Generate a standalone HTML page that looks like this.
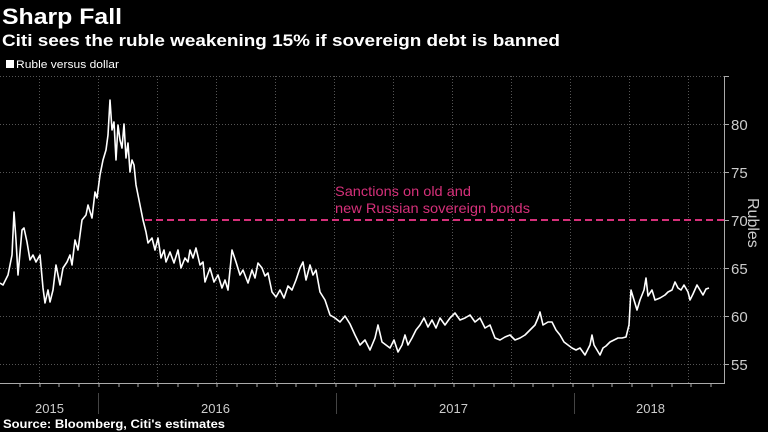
<!DOCTYPE html>
<html><head><meta charset="utf-8"><style>
html,body{margin:0;padding:0;background:#000;}
svg{display:block;font-family:"Liberation Sans",sans-serif;}
</style></head><body>
<svg width="768" height="432" viewBox="0 0 768 432" xmlns="http://www.w3.org/2000/svg">
<rect width="768" height="432" fill="#000"/>
<text x="2" y="24" fill="#fff" font-size="22" font-weight="bold" textLength="120" lengthAdjust="spacingAndGlyphs">Sharp Fall</text>
<text x="2" y="46" fill="#fff" font-size="17" font-weight="bold" textLength="558" lengthAdjust="spacingAndGlyphs">Citi sees the ruble weakening 15% if sovereign debt is banned</text>
<rect x="6" y="60" width="8" height="8" fill="#fff"/>
<text x="16" y="68" fill="#fff" font-size="11" textLength="103" lengthAdjust="spacingAndGlyphs">Ruble versus dollar</text>
<g stroke="#555" stroke-width="1" stroke-dasharray="1,2">
<line x1="0" y1="76.5" x2="724" y2="76.5"/>
<line x1="0" y1="124.5" x2="724" y2="124.5"/>
<line x1="0" y1="172.5" x2="724" y2="172.5"/>
<line x1="0" y1="268.5" x2="724" y2="268.5"/>
<line x1="0" y1="316.5" x2="724" y2="316.5"/>
<line x1="0" y1="364.5" x2="724" y2="364.5"/>
<line x1="39.5" y1="76" x2="39.5" y2="383"/>
<line x1="98.5" y1="76" x2="98.5" y2="383"/>
<line x1="157.5" y1="76" x2="157.5" y2="383"/>
<line x1="216.5" y1="76" x2="216.5" y2="383"/>
<line x1="275.5" y1="76" x2="275.5" y2="383"/>
<line x1="334.5" y1="76" x2="334.5" y2="383"/>
<line x1="393.5" y1="76" x2="393.5" y2="383"/>
<line x1="452.5" y1="76" x2="452.5" y2="383"/>
<line x1="511.5" y1="76" x2="511.5" y2="383"/>
<line x1="570.5" y1="76" x2="570.5" y2="383"/>
<line x1="629.5" y1="76" x2="629.5" y2="383"/>
<line x1="688.5" y1="76" x2="688.5" y2="383"/>
</g>
<g stroke="#aaa" stroke-width="1">
<line x1="0" y1="383.5" x2="725" y2="383.5"/>
<line x1="724.5" y1="76" x2="724.5" y2="384"/>
<line x1="724" y1="76.5" x2="729" y2="76.5"/>
<line x1="724" y1="124.5" x2="729" y2="124.5"/>
<line x1="724" y1="172.5" x2="729" y2="172.5"/>
<line x1="724" y1="220.5" x2="729" y2="220.5"/>
<line x1="724" y1="268.5" x2="729" y2="268.5"/>
<line x1="724" y1="316.5" x2="729" y2="316.5"/>
<line x1="724" y1="364.5" x2="729" y2="364.5"/>
<line x1="98.5" y1="393" x2="98.5" y2="414" stroke="#444"/>
<line x1="336.5" y1="393" x2="336.5" y2="414" stroke="#444"/>
<line x1="574.5" y1="393" x2="574.5" y2="414" stroke="#444"/>
</g>
<g stroke="#aaa" stroke-width="1" id="ticks">
<line x1="20" y1="384" x2="20" y2="387"/><line x1="40" y1="384" x2="40" y2="387"/><line x1="59" y1="384" x2="59" y2="387"/><line x1="79" y1="384" x2="79" y2="387"/><line x1="99" y1="384" x2="99" y2="387"/><line x1="119" y1="384" x2="119" y2="387"/><line x1="138" y1="384" x2="138" y2="387"/><line x1="158" y1="384" x2="158" y2="387"/><line x1="178" y1="384" x2="178" y2="387"/><line x1="198" y1="384" x2="198" y2="387"/><line x1="217" y1="384" x2="217" y2="387"/><line x1="237" y1="384" x2="237" y2="387"/><line x1="257" y1="384" x2="257" y2="387"/><line x1="277" y1="384" x2="277" y2="387"/><line x1="296" y1="384" x2="296" y2="387"/><line x1="316" y1="384" x2="316" y2="387"/><line x1="336" y1="384" x2="336" y2="387"/><line x1="356" y1="384" x2="356" y2="387"/><line x1="375" y1="384" x2="375" y2="387"/><line x1="395" y1="384" x2="395" y2="387"/><line x1="415" y1="384" x2="415" y2="387"/><line x1="435" y1="384" x2="435" y2="387"/><line x1="454" y1="384" x2="454" y2="387"/><line x1="474" y1="384" x2="474" y2="387"/><line x1="494" y1="384" x2="494" y2="387"/><line x1="514" y1="384" x2="514" y2="387"/><line x1="533" y1="384" x2="533" y2="387"/><line x1="553" y1="384" x2="553" y2="387"/><line x1="573" y1="384" x2="573" y2="387"/><line x1="593" y1="384" x2="593" y2="387"/><line x1="612" y1="384" x2="612" y2="387"/><line x1="632" y1="384" x2="632" y2="387"/><line x1="652" y1="384" x2="652" y2="387"/><line x1="672" y1="384" x2="672" y2="387"/><line x1="691" y1="384" x2="691" y2="387"/><line x1="711" y1="384" x2="711" y2="387"/>
</g>
<g fill="#ccc" font-size="15">
<text x="731" y="130">80</text>
<text x="731" y="178">75</text>
<text x="731" y="226">70</text>
<text x="731" y="274">65</text>
<text x="731" y="322">60</text>
<text x="731" y="370">55</text>
<text transform="translate(748,198) rotate(90)" font-size="16">Rubles</text>
<text x="35" y="413" font-size="13">2015</text>
<text x="201" y="413" font-size="13">2016</text>
<text x="439" y="413" font-size="13">2017</text>
<text x="636" y="413" font-size="13">2018</text>
</g>
<text x="3" y="428" fill="#fff" font-size="12" font-weight="bold" textLength="222" lengthAdjust="spacingAndGlyphs">Source: Bloomberg, Citi's estimates</text>
<line x1="145" y1="220" x2="724" y2="220" stroke="#d6307a" stroke-width="2" stroke-dasharray="7,4"/>
<text x="335" y="196" fill="#d6307a" font-size="14" textLength="136" lengthAdjust="spacingAndGlyphs">Sanctions on old and</text>
<text x="335" y="213" fill="#d6307a" font-size="14" textLength="195" lengthAdjust="spacingAndGlyphs">new Russian sovereign bonds</text>
<polyline fill="none" stroke="#fff" stroke-width="1.6" stroke-linejoin="round" points="0,283 3,285 8,275 12,255 14,212 16,240 18,275 22,230 24,228 27,242 30,260 33,255 36,262 40,255 43,288 45,303 48,290 50,302 53,290 56,265 60,285 63,268 67,262 70,255 72,265 75,240 78,250 82,220 86,215 88,205 92,218 95,192 97,198 100,175 103,160 106,150 108,135 110,100 112,130 114,122 116,160 118,125 120,140 122,148 124,124 126,158 128,143 130,172 132,160 134,165 136,185 140,205 143,220 146,232 148,243 152,238 155,250 158,238 161,258 164,250 166,262 170,252 174,263 178,250 181,268 185,258 188,262 190,250 193,258 196,248 200,265 203,262 205,282 210,268 214,282 218,275 222,288 225,280 228,290 232,250 236,262 240,275 243,270 248,283 252,270 255,278 258,263 262,268 265,276 268,273 272,292 276,297 280,290 284,298 288,286 292,290 296,280 300,268 303,262 306,280 310,265 313,275 316,270 320,292 325,300 330,315 335,318 340,322 345,316 350,324 355,335 360,345 365,340 370,350 375,338 378,325 382,342 386,345 390,348 394,340 398,352 402,345 405,335 408,345 412,338 416,330 420,325 424,318 428,327 432,320 436,328 440,318 445,325 450,318 455,313 460,320 465,318 470,315 475,322 480,318 485,328 490,325 495,338 500,340 505,337 510,335 515,340 520,338 525,335 530,330 535,325 538,318 540,312 543,325 548,322 552,322 556,330 560,335 564,342 568,345 572,348 576,350 580,348 585,355 590,345 592,335 594,345 597,350 600,355 603,348 606,346 610,342 614,340 618,338 622,338 626,337 629,325 631,290 634,300 637,310 640,300 644,290 646,278 648,296 652,290 655,300 660,298 665,295 668,292 672,290 675,282 678,288 681,290 684,285 688,292 690,300 693,294 697,285 700,290 703,295 706,289 709,288"/>
</svg>
</body></html>
